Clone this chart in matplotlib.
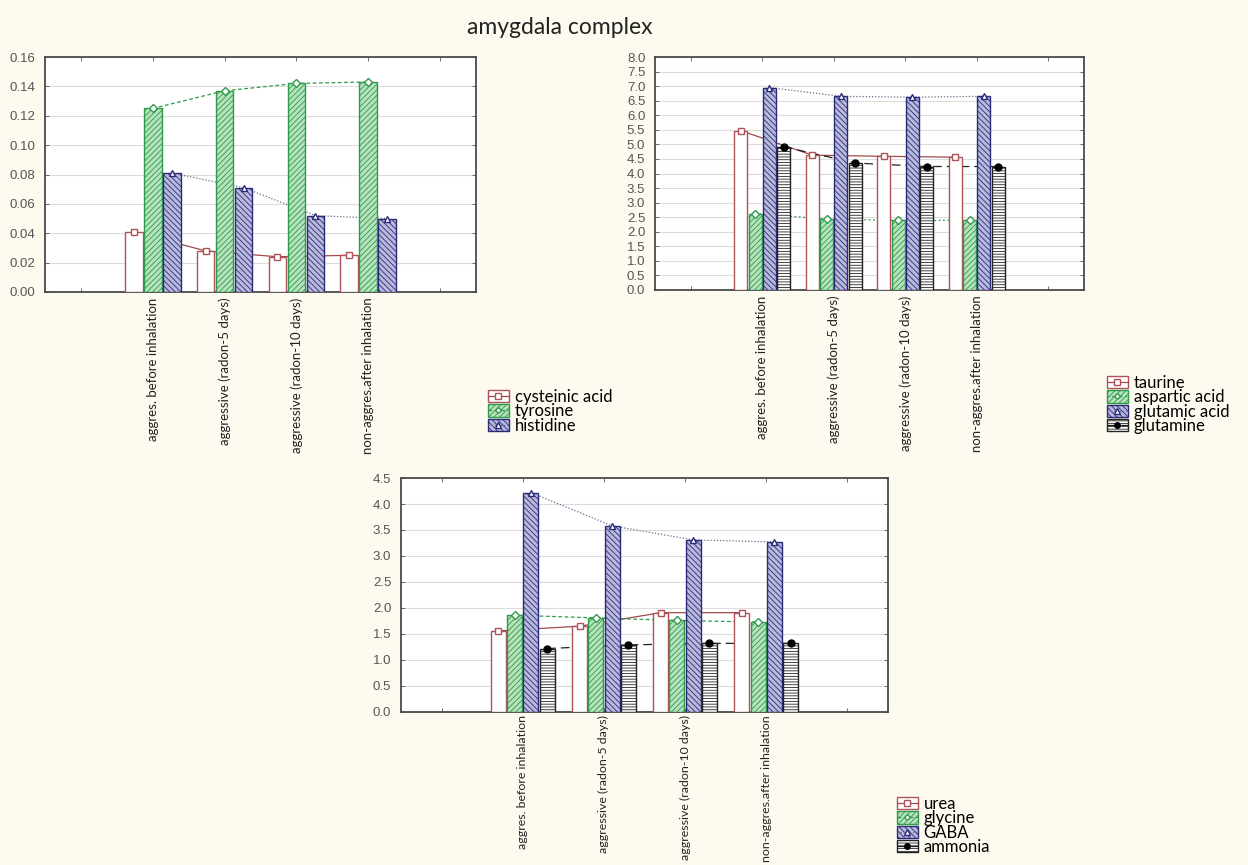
import matplotlib
matplotlib.use("Agg")
import matplotlib.pyplot as plt
import numpy as np
from matplotlib.patches import Patch
from matplotlib.lines import Line2D

# ---------------- data ----------------
categories = ["aggres. before inhalation", "aggressive (radon-5 days)",
              "aggressive (radon-10 days)", "non-aggres.after inhalation"]

tl_names = ["cysteinic acid", "tyrosine", "histidine"]
cysteic = [0.041, 0.028, 0.024, 0.025]
tyrosine = [0.125, 0.137, 0.142, 0.143]
histidine = [0.081, 0.071, 0.052, 0.050]

tr_names = ["taurine", "aspartic acid", "glutamic acid", "glutamine"]
taurine = [5.47, 4.63, 4.59, 4.56]
aspartic = [2.62, 2.44, 2.39, 2.39]
glutamic = [6.95, 6.65, 6.62, 6.65]
glutamine = [4.92, 4.36, 4.24, 4.24]

bt_names = ["urea", "glycine", "GABA", "ammonia"]
urea = [1.56, 1.65, 1.91, 1.91]
glycine = [1.86, 1.81, 1.76, 1.73]
gaba = [4.22, 3.58, 3.31, 3.27]
ammonia = [1.22, 1.29, 1.32, 1.32]

title = "amygdala complex"

# ---------------- styles ----------------
W, H = 1248, 865
BG = "#fdfbf0"
plt.rcParams["hatch.linewidth"] = 0.6
TXT_FONT = ["Lato", "DejaVu Sans"]
NUM_FONT = ["Liberation Sans", "DejaVu Sans"]

RED = "#b0525a"
RED_LINE = "#a04a4a"
GREEN_FACE = "#b6e2bd"
GREEN_EDGE = "#2f9a4a"
BLUE_FACE = "#b9b9dc"
BLUE_EDGE = "#2a2a78"
BLACK = "#222222"

style_red = dict(face="white", edge=RED, hatch=None, ls="-", lc=RED_LINE,
                 marker="s", mfc="white", mec=RED, ms=5)
style_green = dict(face=GREEN_FACE, edge=GREEN_EDGE, hatch="//////", ls=(0, (3, 2)),
                   lc=GREEN_EDGE, marker="D", mfc="white", mec=GREEN_EDGE, ms=4)
style_blue = dict(face=BLUE_FACE, edge=BLUE_EDGE, hatch="\\\\\\\\\\\\", ls=(0, (1, 1.5)),
                  lc="#6a6a8a", marker="^", mfc="white", mec=BLUE_EDGE, ms=5)
style_black = dict(face="white", edge=BLACK, hatch="------", ls=(0, (7, 4)),
                   lc=BLACK, marker="o", mfc="black", mec="black", ms=5)
style_green_tr = dict(style_green, ls=(0, (1.5, 2)))


def frac(x0, y0, x1, y1):
    return [x0 / W, 1 - y1 / H, (x1 - x0) / W, (y1 - y0) / H]


fig = plt.figure(figsize=(W / 100, H / 100), dpi=100, facecolor=BG)


def panel(rect, series, names, styles, ylim, ystep, fmt, width, step, leg_xy,
          xfs=9.5, xpad=4):
    ax = fig.add_axes(rect)
    ax.set_facecolor("white")
    xs = np.arange(1, len(categories) + 1)
    n = len(series)
    offsets = (np.arange(n) - (n - 1) / 2) * step
    handles = []
    for vals, st, off in zip(series, styles, offsets):
        x = xs + off
        ax.plot(x, vals, linestyle=st["ls"], color=st["lc"], lw=0.9, zorder=2)
        ax.bar(x, vals, width=width, facecolor=st["face"], edgecolor=st["edge"],
               hatch=st["hatch"], linewidth=1.0, zorder=3)
        ax.plot(x, vals, linestyle="none", marker=st["marker"], mfc=st["mfc"],
                mec=st["mec"], ms=st["ms"], mew=1.0, zorder=4)
        p = Patch(facecolor=st["face"], edgecolor=st["edge"], hatch=st["hatch"], lw=1.0)
        l = Line2D([], [], linestyle=st["ls"], color=st["lc"], lw=0.9,
                   marker=st["marker"], mfc=st["mfc"], mec=st["mec"], ms=st["ms"] - 1)
        handles.append((p, l))
    ax.set_xlim(-0.5, 5.5)
    ax.set_ylim(*ylim)
    ax.set_xticks(np.arange(0, 6))
    ax.set_xticklabels([""] + categories + [""], rotation=90, fontsize=xfs,
                       family=TXT_FONT, va="top")
    yt = np.arange(ylim[0], ylim[1] + ystep / 2, ystep)
    ax.set_yticks(yt)
    ax.set_yticklabels([fmt.format(v) for v in yt], fontsize=9.5, family=NUM_FONT,
                       color="#444444")
    ax.yaxis.grid(True, color="#dcdcdc", lw=0.8, zorder=0)
    ax.set_axisbelow(True)
    ax.tick_params(axis="both", direction="in", length=3, width=0.6,
                   top=True, right=True, colors="#555555")
    ax.tick_params(axis="y", pad=7)
    ax.tick_params(axis="x", labelcolor="#222222", pad=xpad)
    for s in ax.spines.values():
        s.set_color("#4a4a4a")
        s.set_linewidth(1.3)
    fig.legend(handles, names, loc="upper left",
               bbox_to_anchor=(leg_xy[0] / W, 1 - leg_xy[1] / H),
               frameon=False, prop={"family": TXT_FONT, "size": 12},
               handlelength=1.25, handleheight=0.75, handletextpad=0.35,
               labelspacing=-0.1, borderpad=0, borderaxespad=0)
    return ax


panel(frac(45, 57, 476, 292), [cysteic, tyrosine, histidine], tl_names,
      [style_red, style_green, style_blue], (0, 0.16), 0.02, "{:.2f}",
      0.245, 0.265, (488, 389))
panel(frac(655, 57, 1084, 290), [taurine, aspartic, glutamic, glutamine], tr_names,
      [style_red, style_green_tr, style_blue, style_black], (0, 8.0), 0.5, "{:.1f}",
      0.18, 0.2, (1107, 375))
panel(frac(401, 478, 888, 712), [urea, glycine, gaba, ammonia], bt_names,
      [style_red, style_green, style_blue, style_black], (0, 4.5), 0.5, "{:.1f}",
      0.185, 0.2, (897, 796), xfs=8.9, xpad=2.5)

fig.text(560 / W, 1 - 28 / H, title, ha="center", va="center", fontsize=16.5,
         family=TXT_FONT, color="#222222")

fig.savefig("out.png", dpi=100, facecolor=BG)
